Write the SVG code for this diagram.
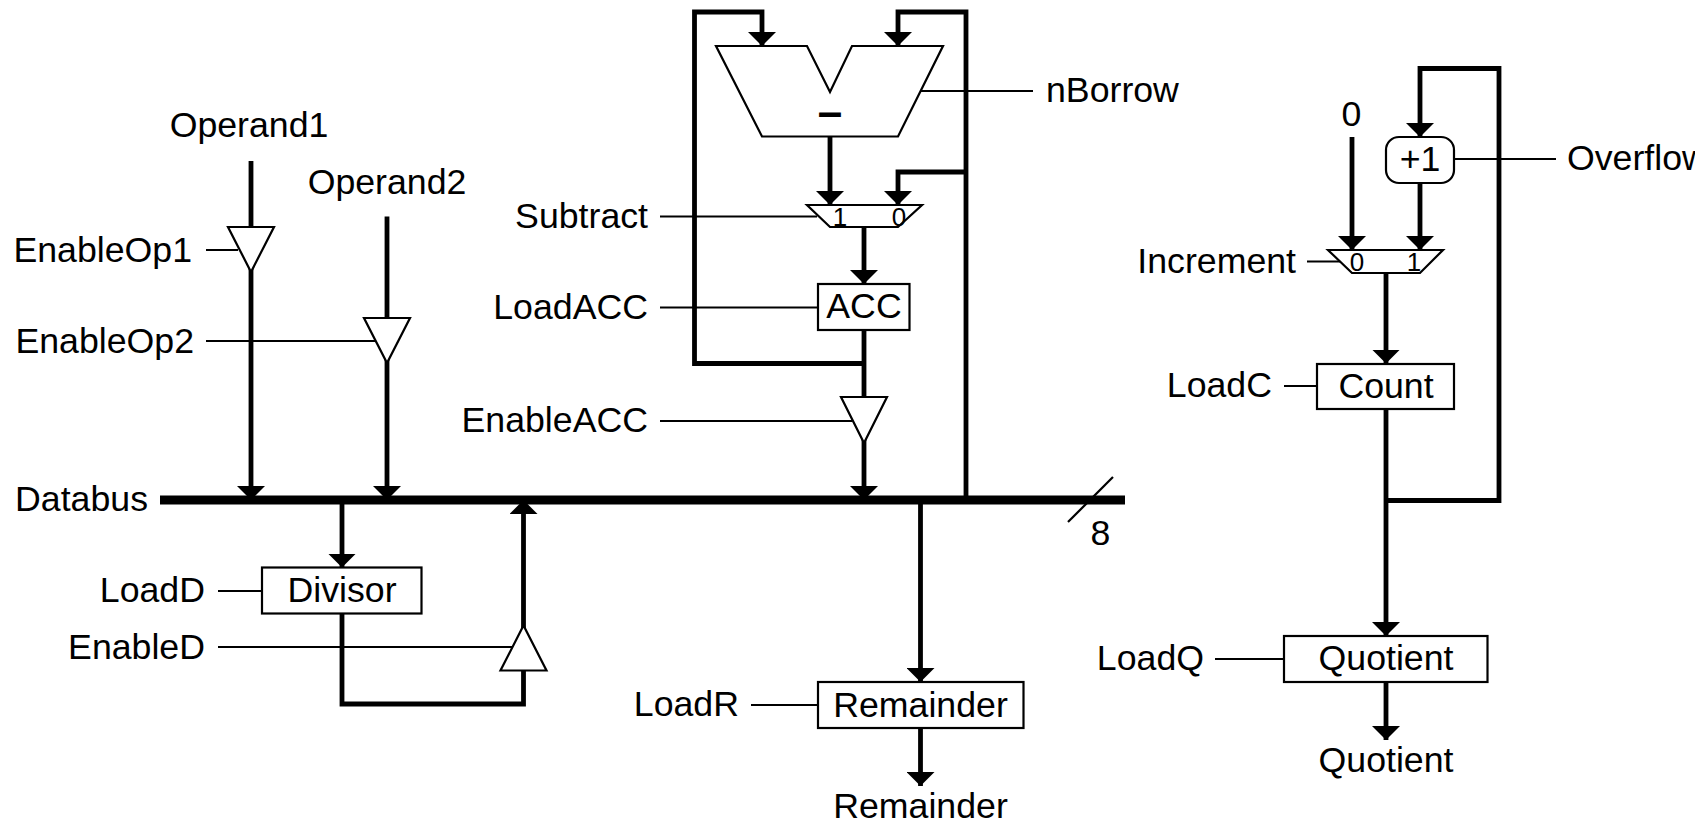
<svg xmlns="http://www.w3.org/2000/svg" width="1706" height="822" viewBox="0 0 1706 822">
<style>
text{font-family:"Liberation Sans",Arial,sans-serif;font-size:35.700px;fill:#000}
.m{text-anchor:middle}.e{text-anchor:end}.s{font-size:26px;text-anchor:middle}
.a{fill:none;stroke:#000;stroke-width:4.800;stroke-linejoin:miter;marker-end:url(#ah)}
.t{fill:none;stroke:#000;stroke-width:2.200}
.b{fill:#fff;stroke:#000;stroke-width:2.200}
</style>
<defs>
<marker id="ah" markerUnits="userSpaceOnUse" viewBox="0 0 14 28" markerWidth="14" markerHeight="28" refX="14" refY="14" orient="auto"><path d="M0 0L14 14L0 28Z" fill="#000"/></marker>
<clipPath id="page"><rect x="0" y="0" width="1695" height="822"/></clipPath>
</defs>
<g id="connectors">
<path class="a" d="M251 161V500"/>
<path class="a" d="M387 216.500V500"/>
<path class="a" d="M864 330V500"/>
<path class="a" d="M864 227V284"/>
<path class="a" d="M830 136V205"/>
<path class="a" d="M864 363.500H694.500V12H762V46"/>
<path class="a" d="M966 500V12H898V46"/>
<path class="a" d="M966 172H898V205"/>
<path class="a" d="M342 500V567.500"/>
<path class="a" d="M342 613.500V704H523.500V500"/>
<path class="a" d="M920.500 500V682"/>
<path class="a" d="M920.500 728V786"/>
<path class="a" d="M1352 137V250"/>
<path class="a" d="M1420 183V250"/>
<path class="a" d="M1386 500.500H1499V68.500H1420V137"/>
<path class="a" d="M1386 273V363.500"/>
<path class="a" d="M1386 409V636"/>
<path class="a" d="M1386 682V740"/>
<path d="M160 500H1125" fill="none" stroke="#000" stroke-width="9"/>
<path class="t" d="M1068 522L1113 477"/>
<path class="t" d="M206 250H238M206 341H375M660 216.500H817M660 307.500H818M660 421H852M921 91H1033M1307 261.500H1340M1454 159H1556M1284 386H1317M1215 659H1284M218 591H262M218 647H512M751 705H818"/>
</g>
<g id="tri-op1"><path class="b" d="M228 227H274L251 272Z"/></g>
<g id="tri-op2"><path class="b" d="M364 318H410L387 363Z"/></g>
<g id="tri-acc"><path class="b" d="M841 397H887L864 443Z"/></g>
<g id="tri-d"><path class="b" d="M500.500 670.500H546.500L523.500 625.500Z"/></g>
<g id="subtractor"><path class="b" d="M716 46H807L830 92L852 46H943L898 136.500H762Z"/><text x="830" y="127" class="m" style="font-weight:bold;font-size:44px">–</text></g>
<g id="mux-acc"><path class="b" d="M807 205H922L898 227H830Z"/><text x="840" y="226" class="s">1</text><text x="899" y="226" class="s">0</text></g>
<g id="acc"><rect class="b" x="818" y="284" width="91.500" height="46"/><text x="864" y="318" class="m">ACC</text></g>
<g id="divisor"><rect class="b" x="262" y="567.500" width="159.500" height="46"/><text x="342" y="602" class="m">Divisor</text></g>
<g id="remainder"><rect class="b" x="818" y="682" width="205.500" height="46"/><text x="920.500" y="716.500" class="m">Remainder</text></g>
<g id="inc"><rect class="b" x="1386" y="137" width="68" height="46" rx="13"/><text x="1420" y="171" class="m">+1</text></g>
<g id="mux-c"><path class="b" d="M1328 250H1443L1420 273H1352Z"/><text x="1357" y="271" class="s">0</text><text x="1414" y="271" class="s">1</text></g>
<g id="count"><rect class="b" x="1317" y="364" width="137" height="45"/><text x="1386" y="398" class="m">Count</text></g>
<g id="quotient"><rect class="b" x="1284" y="636" width="203.500" height="46"/><text x="1386" y="670" class="m">Quotient</text></g>
<g id="labels">
<text x="249" y="137" class="m">Operand1</text>
<text x="387" y="193.500" class="m">Operand2</text>
<text x="192" y="262" class="e">EnableOp1</text>
<text x="194" y="353" class="e">EnableOp2</text>
<text x="148" y="511" class="e">Databus</text>
<text x="205" y="602" class="e">LoadD</text>
<text x="205" y="659" class="e">EnableD</text>
<text x="648" y="228" class="e">Subtract</text>
<text x="648" y="319" class="e">LoadACC</text>
<text x="648" y="432" class="e">EnableACC</text>
<text x="1046" y="102">nBorrow</text>
<text x="1100.500" y="545" class="m">8</text>
<text x="739" y="716" class="e">LoadR</text>
<text x="920.500" y="818" class="m">Remainder</text>
<text x="1351.500" y="126" class="m">0</text>
<text x="1567" y="170" clip-path="url(#page)">Overflow</text>
<text x="1296" y="273" class="e">Increment</text>
<text x="1272" y="397" class="e">LoadC</text>
<text x="1204" y="670" class="e">LoadQ</text>
<text x="1386" y="772" class="m">Quotient</text>
</g>
</svg>
